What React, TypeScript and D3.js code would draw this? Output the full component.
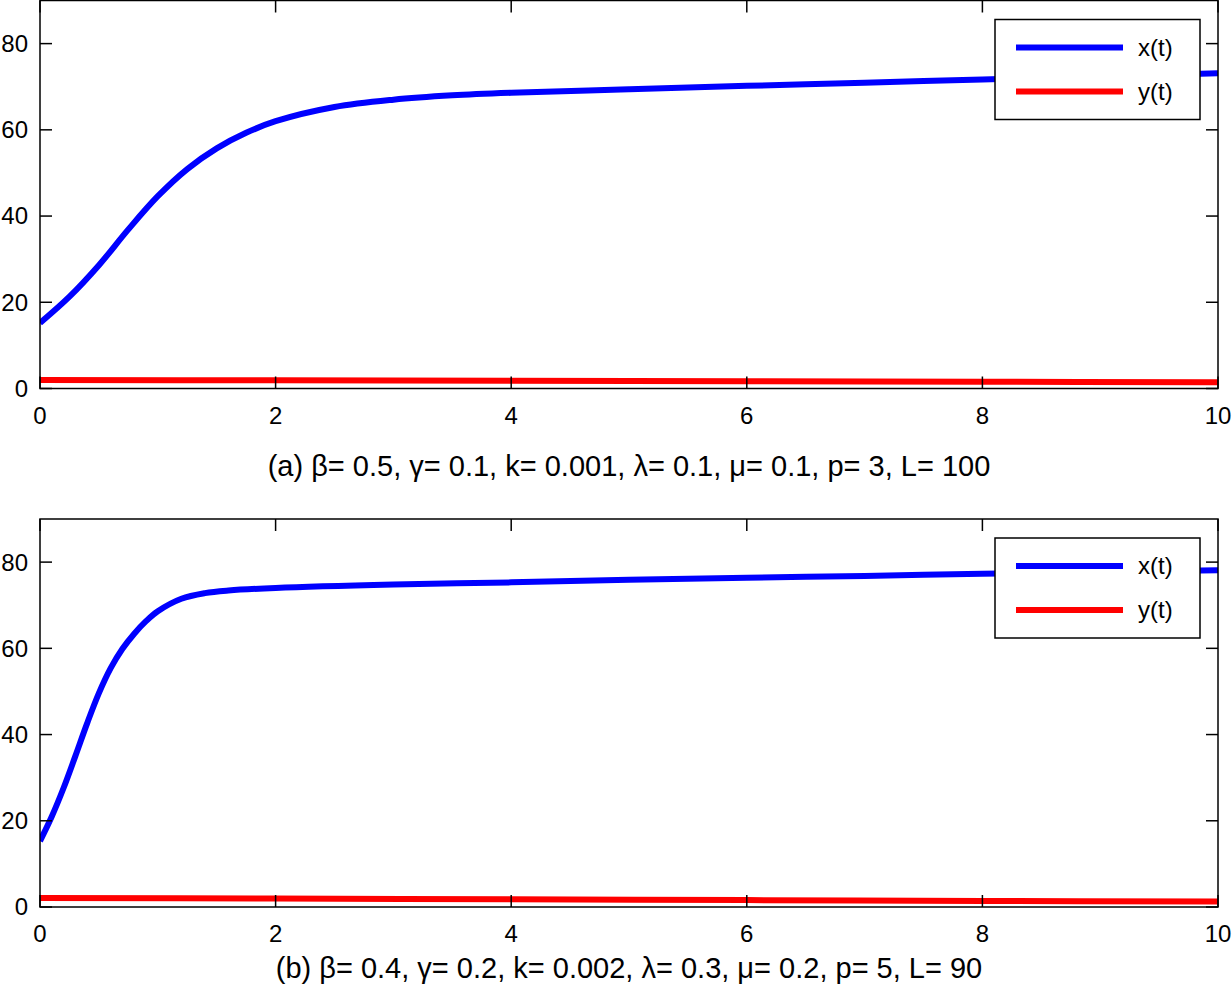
import * as d3 from 'd3';

// time samples and read-off values, panel (a)
const tA = [0, 0.25, 0.5, 0.75, 1, 1.25, 1.5, 1.75, 2, 2.5, 3, 3.5, 4, 5, 6, 7, 8, 9, 10];
const xA = [15.2, 21.3, 28.6, 36.9, 44.6, 50.9, 55.7, 59.3, 62, 65.3, 67.0, 68.0, 68.6, 69.4, 70.2, 70.9, 71.7, 72.4, 73.1];
const tAy = [0, 2, 4, 6, 8, 10];
const yA = [2.0, 1.9, 1.8, 1.7, 1.57, 1.45];

// panel (b)
const tB = [0, 0.1, 0.2, 0.3, 0.4, 0.5, 0.6, 0.7, 0.8, 0.9, 1, 1.2, 1.4, 1.6, 2, 3, 4, 5, 6, 7, 8, 9, 10];
const xB = [15.3, 21, 27.6, 35, 42.6, 49.6, 55.4, 59.9, 63.4, 66.3, 68.6, 71.5, 72.8, 73.4, 74.0, 74.8, 75.3, 75.9, 76.4, 76.8, 77.3, 77.7, 78.1];
const tBy = [0, 2, 4, 6, 8, 10];
const yB = [2.1, 1.95, 1.8, 1.6, 1.4, 1.25];

const xTicks = [0, 2, 4, 6, 8, 10];
const yTicks = [0, 20, 40, 60, 80];
const seriesNames = ['x(t)', 'y(t)'];
const captionA = '(a) β= 0.5, γ= 0.1, k= 0.001, λ= 0.1, μ= 0.1, p= 3, L= 100';
const captionB = '(b) β= 0.4, γ= 0.2, k= 0.002, λ= 0.3, μ= 0.2, p= 5, L= 90';

const FONT = 'Liberation Sans, Arial, Helvetica, sans-serif';
const left = 40;
const right = 1218;
const h = 388;
const tickLen = 12;

type PanelProps = { id: string; top: number; tx: number[]; xs: number[]; ty: number[]; ys: number[]; caption: string; capY: number };

function Panel({ id, top, tx, xs, ty, ys, caption, capY }: PanelProps) {
  const x = d3.scaleLinear().domain([0, 10]).range([left, right]);
  const y = d3.scaleLinear().domain([0, 90]).range([top + h, top]);
  const line = d3.line<[number, number]>()
    .x(d => x(d[0]))
    .y(d => y(d[1]))
    .curve(d3.curveCatmullRom.alpha(0.5));
  const blue = line(tx.map((t, i) => [t, xs[i]]));
  const red = line(ty.map((t, i) => [t, ys[i]]));

  const lg = { x: 995, y: top + 19, w: 205, h: 100 };

  return (
    <g>
      <defs>
        <clipPath id={id}>
          <rect x={left} y={top} width={right - left} height={h} />
        </clipPath>
      </defs>
      <g clipPath={`url(#${id})`}>
        <path d={blue ?? ''} fill="none" stroke="#0000ff" strokeWidth={6} />
        <path d={red ?? ''} fill="none" stroke="#ff0000" strokeWidth={6} />
      </g>
      <rect x={left} y={top} width={right - left} height={h} fill="none" stroke="#000" strokeWidth={1.5} />
      {xTicks.map(t => (
        <g key={'x' + t}>
          <line x1={x(t)} x2={x(t)} y1={top + h} y2={top + h - tickLen} stroke="#000" strokeWidth={1.5} />
          <line x1={x(t)} x2={x(t)} y1={top} y2={top + tickLen} stroke="#000" strokeWidth={1.5} />
          <text x={x(t)} y={top + h + 35} textAnchor="middle" fontSize={24} fontFamily={FONT}>{t}</text>
        </g>
      ))}
      {yTicks.map(v => (
        <g key={'y' + v}>
          <line x1={left} x2={left + tickLen} y1={y(v)} y2={y(v)} stroke="#000" strokeWidth={1.5} />
          <line x1={right} x2={right - tickLen} y1={y(v)} y2={y(v)} stroke="#000" strokeWidth={1.5} />
          <text x={left - 12} y={y(v)} dy="0.35em" textAnchor="end" fontSize={24} fontFamily={FONT}>{v}</text>
        </g>
      ))}
      <text x={(left + right) / 2} y={capY} textAnchor="middle" fontSize={29} fontFamily={FONT}>{caption}</text>
      <rect x={lg.x} y={lg.y} width={lg.w} height={lg.h} fill="#fff" stroke="#000" strokeWidth={1.5} />
      {seriesNames.map((name, i) => (
        <g key={name}>
          <line x1={lg.x + 21} x2={lg.x + 128} y1={lg.y + 28 + i * 44} y2={lg.y + 28 + i * 44}
            stroke={i === 0 ? '#0000ff' : '#ff0000'} strokeWidth={6} />
          <text x={lg.x + 143} y={lg.y + 28 + i * 44} dy="0.35em" fontSize={24} fontFamily={FONT}>{name}</text>
        </g>
      ))}
    </g>
  );
}

export default function App() {
  return (
    <div style={{ position: 'absolute', left: 0, top: 0 }}>
      <svg width={1232} height={990} style={{ display: 'block', background: '#fff' }}>
        <Panel id="clipA" top={0.5} tx={tA} xs={xA} ty={tAy} ys={yA} caption={captionA} capY={476} />
        <Panel id="clipB" top={519} tx={tB} xs={xB} ty={tBy} ys={yB} caption={captionB} capY={978} />
      </svg>
    </div>
  );
}
